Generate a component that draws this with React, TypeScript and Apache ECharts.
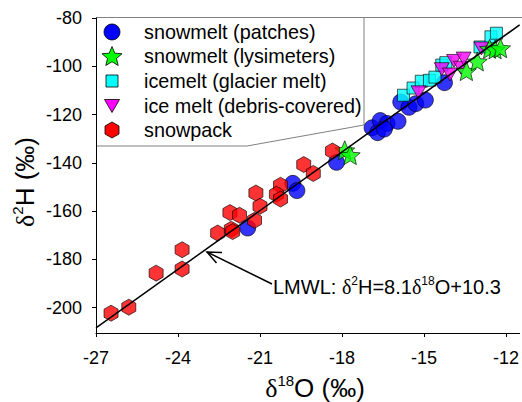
import React, { useEffect, useRef } from 'react';
import * as echarts from 'echarts';

// Axis ticks
const xTicks = [-27, -24, -21, -18, -15, -12];
const yTicks = [-200, -180, -160, -140, -120, -100, -80];

// Series values [δ18O, δ2H]
const snowmeltPatches: [number, number][] = [
  [-21.45, -167], [-19.8, -148.5], [-19.65, -151.5], [-18.2, -139.8],
  [-16.9, -125.5], [-16.7, -127.5], [-16.6, -122.5], [-16.35, -123.7],
  [-15.95, -122.8], [-16.45, -126], [-15.85, -114.8], [-15.55, -117],
  [-15.3, -115.5], [-14.95, -114], [-14.25, -106.8],
];
const snowmeltLysimeters: [number, number][] = [
  [-17.9, -134.8], [-17.7, -136.8], [-13.45, -102], [-13.05, -98],
  [-12.6, -92.8], [-12.4, -93], [-12.2, -92.5],
];
const icemeltGlacier: [number, number][] = [
  [-15.75, -112], [-15.4, -109], [-15.1, -106.2], [-14.8, -105.8],
  [-14.6, -104.5], [-14.35, -99.5], [-14.2, -98.5], [-12.95, -92],
  [-12.55, -87.8], [-12.35, -86.3],
];
const icemeltDebris: [number, number][] = [
  [-15.2, -110.8], [-14.35, -101.2], [-14.05, -103.4], [-13.9, -97.8],
  [-13.65, -100.6], [-13.55, -96.8], [-12.9, -92.6],
];
const snowpack: [number, number][] = [
  [-26.45, -202.3], [-25.8, -199.8], [-24.8, -185.7], [-23.85, -176],
  [-23.85, -184], [-22.55, -169.1], [-22.1, -160.6], [-21.75, -161.7],
  [-22.05, -167.5], [-22.0, -168.5], [-21.2, -163.8], [-21.15, -152.5],
  [-21.0, -158], [-20.25, -149.3], [-20.4, -153], [-20.25, -155],
  [-19.4, -140.7], [-19.05, -144.4], [-18.35, -135.1],
];
// LMWL: δ2H = 8.1 δ18O + 10.3 (end points at the axis extent)
const lmwl: [number, number][] = [[-27, -208.4], [-11.5, -82.85]];

const legendNames = [
  'snowmelt (patches)',
  'snowmelt (lysimeters)',
  'icemelt (glacier melt)',
  'ice melt (debris-covered)',
  'snowpack',
];

const FONT = 'Liberation Sans';

const starPath =
  'path://M0,-1 L0.265,-0.364 L0.951,-0.309 L0.428,0.139 L0.588,0.809 L0,0.45 L-0.588,0.809 L-0.428,0.139 L-0.951,-0.309 L-0.265,-0.364 Z';
const triPath = 'path://M-1,-0.87 L1,-0.87 L0,0.87 Z';
const hexPath = 'path://M0,-1 L0.866,-0.5 L0.866,0.5 L0,1 L-0.866,0.5 L-0.866,-0.5 Z';

function starPts(cx: number, cy: number, r: number): number[][] {
  const pts: number[][] = [];
  for (let i = 0; i < 10; i++) {
    const a = -Math.PI / 2 + (i * Math.PI) / 5;
    const rr = i % 2 === 0 ? r : r * 0.45;
    pts.push([cx + rr * Math.cos(a), cy + rr * Math.sin(a)]);
  }
  return pts;
}
function hexPts(cx: number, cy: number, w: number, h: number): number[][] {
  return [
    [cx, cy - h / 2], [cx + w / 2, cy - h / 4], [cx + w / 2, cy + h / 4],
    [cx, cy + h / 2], [cx - w / 2, cy + h / 4], [cx - w / 2, cy - h / 4],
  ];
}

export default function App() {
  const ref = useRef<HTMLDivElement>(null);
  useEffect(() => {
    document.body.style.margin = '0';
    const chart = echarts.init(ref.current!, null, { renderer: 'svg' });
    const border = { borderColor: '#000', borderWidth: 0.8 };
    const rowY = [32, 56, 81, 106, 130];
    const iconX = 112;
    const textX = 144;
    const stroke = { stroke: '#000', lineWidth: 0.8 };

    const legendGraphics: any[] = [
      { type: 'circle', shape: { cx: iconX, cy: rowY[0], r: 8 }, style: { fill: '#0000FF', ...stroke } },
      { type: 'polygon', shape: { points: starPts(iconX, rowY[1] + 1, 10.5) }, style: { fill: '#00FF00', ...stroke } },
      { type: 'rect', shape: { x: iconX - 6, y: rowY[2] - 6, width: 12, height: 12 }, style: { fill: '#00FFFF', ...stroke } },
      { type: 'polygon', shape: { points: [[iconX - 7.5, rowY[3] - 6.5], [iconX + 7.5, rowY[3] - 6.5], [iconX, rowY[3] + 6.5]] }, style: { fill: '#FF00FF', ...stroke } },
      { type: 'polygon', shape: { points: hexPts(iconX, rowY[4], 14, 16) }, style: { fill: '#FF0000', ...stroke } },
      ...legendNames.map((n, i) => ({
        type: 'text', x: textX, y: rowY[i],
        style: { text: n, fontSize: 19.8, fontFamily: FONT, fill: '#000', align: 'left', verticalAlign: 'middle' },
      })),
    ];

    const titleRich = {
      a: { fontSize: 26, fontFamily: FONT, lineHeight: 30, fill: '#000' },
      d: { fontSize: 26, fontFamily: 'Liberation Serif', lineHeight: 30, fill: '#000' },
      s: { fontSize: 15, fontFamily: FONT, lineHeight: 12, verticalAlign: 'top', fill: '#000' },
    };
    const annRich = {
      a: { fontSize: 20, fontFamily: FONT, lineHeight: 24, fill: '#000' },
      d: { fontSize: 20, fontFamily: 'Liberation Serif', lineHeight: 24, fill: '#000' },
      s: { fontSize: 12, fontFamily: FONT, lineHeight: 10, verticalAlign: 'top', fill: '#000' },
    };

    chart.setOption({
      animation: false,
      backgroundColor: '#fff',
      grid: { left: 96, right: 1, top: 18, bottom: 69, containLabel: false },
      xAxis: {
        type: 'value', min: -27, max: -11.5,
        axisLine: { lineStyle: { color: '#000', width: 1 } },
        axisTick: { show: true, customValues: xTicks, length: 4, lineStyle: { color: '#000' } },
        axisLabel: { customValues: xTicks, fontSize: 18, fontFamily: FONT, color: '#000', margin: 16 },
        splitLine: { show: false },
      },
      yAxis: {
        type: 'value', min: -210.5, max: -80,
        axisLine: { show: true, lineStyle: { color: '#000', width: 1 } },
        axisTick: { show: true, customValues: yTicks, length: 4, lineStyle: { color: '#000' } },
        axisLabel: { customValues: yTicks, fontSize: 18, fontFamily: FONT, color: '#000', margin: 14 },
        splitLine: { show: false },
      },
      series: [
        { name: legendNames[0], type: 'scatter', data: snowmeltPatches, symbol: 'circle', symbolSize: 16, z: 2, itemStyle: { color: '#0000FF', ...border } },
        { name: legendNames[2], type: 'scatter', data: icemeltGlacier, symbol: 'rect', symbolSize: 12, z: 3, itemStyle: { color: '#00FFFF', ...border } },
        { name: legendNames[3], type: 'scatter', data: icemeltDebris, symbol: triPath, symbolSize: [15, 13], z: 4, itemStyle: { color: '#FF00FF', ...border } },
        { name: legendNames[1], type: 'scatter', data: snowmeltLysimeters, symbol: starPath, symbolSize: [20, 19], z: 5, itemStyle: { color: '#00FF00', ...border } },
        { name: legendNames[4], type: 'scatter', data: snowpack, symbol: hexPath, symbolSize: [14, 16], z: 6, itemStyle: { color: '#FF0000', ...border } },
        { name: 'LMWL', type: 'line', data: lmwl, showSymbol: false, silent: true, z: 10, lineStyle: { color: '#000', width: 1.5 } },
      ],
      graphic: [
        { type: 'line', shape: { x1: 96, y1: 17.5, x2: 522, y2: 17.5 }, style: { stroke: '#808080', lineWidth: 1 } },
        { type: 'polyline', shape: { points: [[96, 146], [247, 146], [364, 125], [364, 17]] }, style: { stroke: '#808080', lineWidth: 1, fill: null } },
        ...legendGraphics,
        {
          type: 'text', x: 315, y: 388,
          style: { text: '{d|δ}{s|18}{a|O (‰)}', rich: titleRich, align: 'center', verticalAlign: 'middle' },
        },
        {
          type: 'text', x: 25, y: 182, rotation: Math.PI / 2,
          style: { text: '{d|δ}{s|2}{a|H (‰)}', rich: titleRich, align: 'center', verticalAlign: 'middle' },
        },
        {
          type: 'text', x: 273, y: 287,
          style: { text: '{a|LMWL: }{d|δ}{s|2}{a|H=8.1}{d|δ}{s|18}{a|O+10.3}', rich: annRich, align: 'left', verticalAlign: 'middle' },
        },
        { type: 'polyline', shape: { points: [[272, 284], [207, 252]] }, style: { stroke: '#000', lineWidth: 1.5, fill: null } },
        { type: 'polyline', shape: { points: [[222, 252.5], [207, 252], [216.5, 263]] }, style: { stroke: '#000', lineWidth: 1.5, fill: null } },
      ],
    });
    return () => chart.dispose();
  }, []);
  return <div ref={ref} style={{ width: 522, height: 402 }} />;
}
